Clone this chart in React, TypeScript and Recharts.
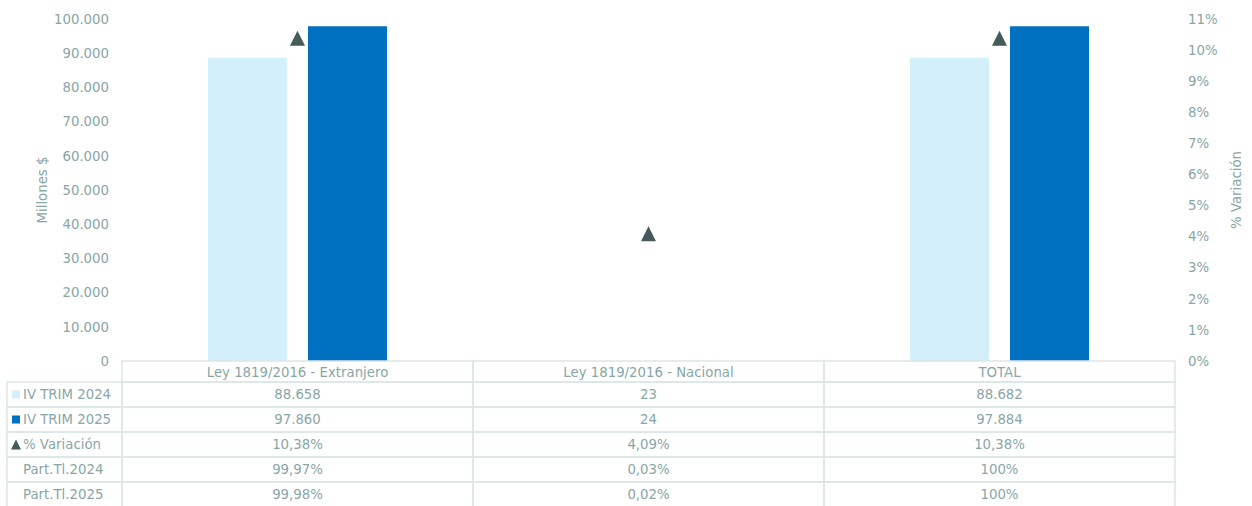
import React from 'react';
import { ComposedChart, Bar, Line, XAxis, YAxis } from 'recharts';

const categories = ['Ley 1819/2016 - Extranjero', 'Ley 1819/2016 - Nacional', 'TOTAL'];
const trim2024 = [88658, 23, 88682];
const trim2025 = [97860, 24, 97884];
const variacion = [10.38, 4.09, 10.38];
const part2024 = ['99,97%', '0,03%', '100%'];
const part2025 = ['99,98%', '0,02%', '100%'];
const leftTicks = [0, 10000, 20000, 30000, 40000, 50000, 60000, 70000, 80000, 90000, 100000];
const rightTicks = [0, 1, 2, 3, 4, 5, 6, 7, 8, 9, 10, 11];
const rowLabels = ['IV TRIM 2024', 'IV TRIM 2025', '% Variación', 'Part.Tl.2024', 'Part.Tl.2025'];

const W = 1252;
const H = 506;
const PLOT_LEFT = 122;
const PLOT_RIGHT = 1175;
const TOP = 19;
const XAXIS_H = 145;
const BAND = (PLOT_RIGHT - PLOT_LEFT) / categories.length;
const HEADER_H = 21;
const ROW_H = 25;
const TABLE_LEFT = 7;

const TEXT = '#89A6A6';
const BORDER = '#DDE6E6';
const LIGHT = '#D3EFFA';
const DARK = '#0070C0';
const TRI = '#445A5B';
const FONT = 'DejaVu Sans, Verdana, sans-serif';
const FS = 13.3;

const fmtThousands = (v: number) => String(Math.round(v)).replace(/\B(?=(\d{3})+(?!\d))/g, '.');
const fmtPct = (v: number) => v.toFixed(2).replace('.', ',') + '%';

const data = categories.map((name, i) => ({
  name,
  t2024: trim2024[i],
  t2025: trim2025[i],
  v: variacion[i],
}));

const TriangleDot = (props: any) => {
  const { cx, cy, index } = props;
  if (cx == null || cy == null) return <g key={`t${index}`} />;
  const s = 7.5;
  return (
    <polygon
      key={`t${index}`}
      points={`${cx},${cy - s} ${cx + s},${cy + s} ${cx - s},${cy + s}`}
      fill={TRI}
    />
  );
};

const cellText = (x: number, y: number, s: string, anchor: string = 'middle') => (
  <text x={x} y={y} textAnchor={anchor as any} dominantBaseline="central" fill={TEXT} fontSize={FS} fontFamily={FONT}>
    {s}
  </text>
);

const TableTick = (props: any) => {
  const { x, y, index } = props;
  const top = y;
  const left = x - BAND / 2;
  const rowVals = [
    fmtThousands(trim2024[index]),
    fmtThousands(trim2025[index]),
    fmtPct(variacion[index]),
    part2024[index],
    part2025[index],
  ];
  const elems: any[] = [];
  elems.push(<rect key="h" x={left} y={top} width={BAND} height={HEADER_H} fill="none" stroke={BORDER} strokeWidth={1.5} />);
  elems.push(<g key="ht">{cellText(x, top + HEADER_H / 2 + 0.5, categories[index])}</g>);
  rowVals.forEach((v, r) => {
    const ry = top + HEADER_H + r * ROW_H;
    elems.push(<rect key={`r${r}`} x={left} y={ry} width={BAND} height={ROW_H} fill="none" stroke={BORDER} strokeWidth={1.5} />);
    elems.push(<g key={`rt${r}`}>{cellText(x, ry + ROW_H / 2, v)}</g>);
  });
  if (index === 0) {
    rowLabels.forEach((lab, r) => {
      const ry = top + HEADER_H + r * ROW_H;
      elems.push(
        <rect key={`l${r}`} x={TABLE_LEFT} y={ry} width={left - TABLE_LEFT} height={ROW_H} fill="none" stroke={BORDER} strokeWidth={1.5} />
      );
      const cy = ry + ROW_H / 2;
      if (r === 0) elems.push(<rect key={`i${r}`} x={12} y={cy - 4} width={8} height={8} fill={LIGHT} />);
      if (r === 1) elems.push(<rect key={`i${r}`} x={12} y={cy - 4} width={8} height={8} fill={DARK} />);
      if (r === 2)
        elems.push(<polygon key={`i${r}`} points={`${16},${cy - 5} ${21},${cy + 5} ${11},${cy + 5}`} fill={TRI} />);
      elems.push(<g key={`lt${r}`}>{cellText(23, cy, lab, 'start')}</g>);
    });
  }
  return <g>{elems}</g>;
};

const LeftTitle = (props: any) => {
  const vb = props.viewBox || {};
  const cy = (vb.y ?? TOP) + (vb.height ?? 342) / 2;
  const cx = 42;
  return (
    <text x={cx} y={cy} transform={`rotate(-90 ${cx} ${cy})`} textAnchor="middle" dominantBaseline="central" fill={TEXT} fontSize={FS} fontFamily={FONT}>
      Millones $
    </text>
  );
};

const RightTitle = (props: any) => {
  const vb = props.viewBox || {};
  const cy = (vb.y ?? TOP) + (vb.height ?? 342) / 2;
  const cx = 1236;
  return (
    <text x={cx} y={cy} transform={`rotate(-90 ${cx} ${cy})`} textAnchor="middle" dominantBaseline="central" fill={TEXT} fontSize={FS} fontFamily={FONT}>
      % Variación
    </text>
  );
};

export default function App() {
  return (
    <div style={{ position: 'absolute', left: 0, top: 0, width: W, height: H, background: '#fff' }}>
      <ComposedChart
        width={W}
        height={H}
        data={data}
        margin={{ top: TOP, right: 0, bottom: 0, left: 0 }}
        barSize={79}
        barGap={21}
      >
        <XAxis
          dataKey="name"
          xAxisId={0}
          height={XAXIS_H}
          axisLine={false}
          tickLine={false}
          tickSize={0}
          tickMargin={0}
          interval={0}
          tick={<TableTick />}
        />
        <YAxis
          yAxisId="left"
          orientation="left"
          width={PLOT_LEFT}
          domain={[0, 100000]}
          ticks={leftTicks}
          axisLine={false}
          tickLine={false}
          tickSize={0}
          tickMargin={13}
          tickFormatter={fmtThousands}
          tick={{ fill: TEXT, fontSize: FS, fontFamily: FONT }}
          label={{ content: (p: any) => <LeftTitle {...p} /> }}
        />
        <YAxis
          yAxisId="right"
          orientation="right"
          width={W - PLOT_RIGHT}
          domain={[0, 11]}
          ticks={rightTicks}
          axisLine={false}
          tickLine={false}
          tickSize={0}
          tickMargin={13}
          tickFormatter={(v: number) => `${v}%`}
          tick={{ fill: TEXT, fontSize: FS, fontFamily: FONT, textAnchor: 'start' }}
          label={{ content: (p: any) => <RightTitle {...p} /> }}
        />
        <Bar yAxisId="left" dataKey="t2024" fill={LIGHT} isAnimationActive={false} />
        <Bar yAxisId="left" dataKey="t2025" fill={DARK} isAnimationActive={false} />
        <Line
          yAxisId="right"
          dataKey="v"
          stroke="none"
          dot={<TriangleDot />}
          activeDot={false}
          isAnimationActive={false}
        />
      </ComposedChart>
    </div>
  );
}
